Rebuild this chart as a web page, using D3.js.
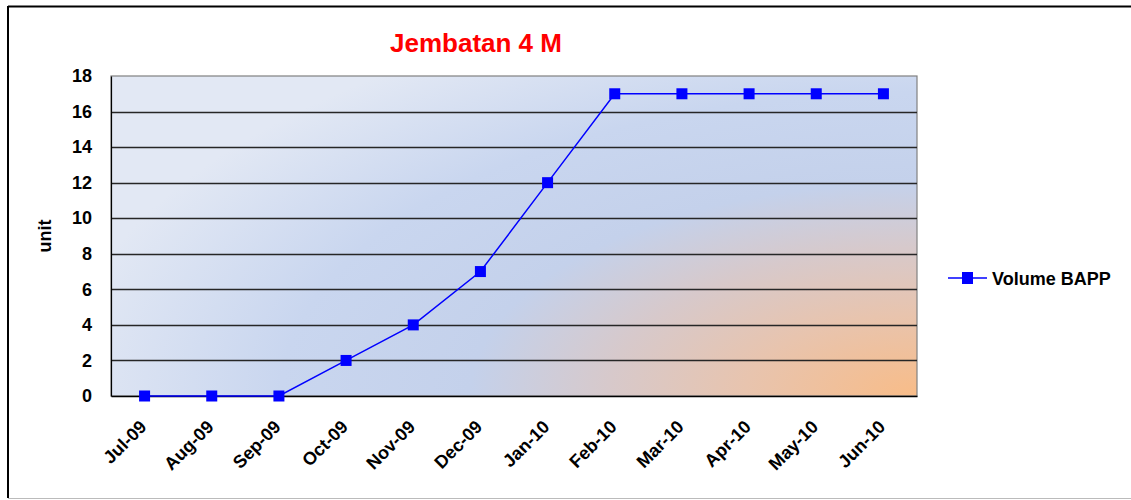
<!DOCTYPE html>
<html><head><meta charset="utf-8">
<script src="https://cdn.jsdelivr.net/npm/d3@7"></script>
<style>html,body{margin:0;padding:0;background:#fff;}svg{display:block;font-family:"Liberation Sans",Arial,sans-serif;}</style>
</head><body>
<script>
const categories = ["Jul-09","Aug-09","Sep-09","Oct-09","Nov-09","Dec-09","Jan-10","Feb-10","Mar-10","Apr-10","May-10","Jun-10"];
const volumeBAPP = [0,0,0,2,4,7,12,17,17,17,17,17];
const yTicks = [0,2,4,6,8,10,12,14,16,18];
const seriesName = "Volume BAPP";
const titleText = "Jembatan 4 M";
const yLabel = "unit";

const W = 1131, H = 500;
const m = {left:111, right:917, top:76, bottom:396};
const svg = d3.select("body").append("svg").attr("width",W).attr("height",H);

const x = d3.scaleBand().domain(categories).range([m.left,m.right]);
const y = d3.scaleLinear().domain([0,18]).range([m.bottom,m.top]);

const defs = svg.append("defs");
const rg = defs.append("radialGradient").attr("id","bg").attr("gradientUnits","userSpaceOnUse")
  .attr("cx",0).attr("cy",0).attr("r",1)
  .attr("gradientTransform",`translate(${m.right},${m.bottom}) scale(860,410)`);
[[0,"#f8bc88"],[0.2,"#e8c4ae"],[0.36,"#d7c9cb"],[0.52,"#c4d1eb"],[0.74,"#c9d6ef"],[1,"#e2e8f4"]]
  .forEach(([o,c])=>rg.append("stop").attr("offset",o).attr("stop-color",c));

// outer frame
svg.append("line").attr("x1",8).attr("x2",W).attr("y1",6.5).attr("y2",6.5).attr("stroke","#000").attr("stroke-width",2);
svg.append("line").attr("x1",8).attr("x2",8).attr("y1",6).attr("y2",498).attr("stroke","#000").attr("stroke-width",2);
svg.append("line").attr("x1",8).attr("x2",W).attr("y1",498.5).attr("y2",498.5).attr("stroke","#bbb").attr("stroke-width",1);

// plot background
svg.append("rect").attr("x",m.left).attr("y",m.top).attr("width",m.right-m.left).attr("height",m.bottom-m.top)
  .attr("fill","url(#bg)").attr("stroke","#808080").attr("stroke-width",1.2);

// gridlines
svg.append("g").selectAll("line").data(yTicks.filter(d=>d>0 && d<18)).join("line")
  .attr("x1",m.left).attr("x2",m.right).attr("y1",d=>Math.round(y(d))+0.5).attr("y2",d=>Math.round(y(d))+0.5)
  .attr("stroke","#262626").attr("stroke-width",1.4);

// axes
const yAxis = svg.append("g").attr("transform",`translate(${m.left},0)`)
  .call(d3.axisLeft(y).tickValues(yTicks).tickSize(0).tickPadding(19));
yAxis.select(".domain").attr("stroke","#000").attr("stroke-width",1.2);
yAxis.selectAll("text").attr("font-size",18).attr("font-weight","bold").attr("fill","#000")
  .attr("font-family","Liberation Sans, Arial, sans-serif");

const xAxis = svg.append("g").attr("transform",`translate(0,${m.bottom})`)
  .call(d3.axisBottom(x).tickSize(0).tickPadding(0));
xAxis.select(".domain").attr("stroke","#000").attr("stroke-width",1.5);
xAxis.selectAll("text").attr("font-size",18).attr("font-weight","bold").attr("fill","#000")
  .attr("font-family","Liberation Sans, Arial, sans-serif")
  .attr("text-anchor","end").attr("dy",0)
  .attr("transform","translate(3,32) rotate(-45)");

// line
const line = d3.line().x(d=>x(d.c)+x.bandwidth()/2).y(d=>y(d.v));
const pts = categories.map((c,i)=>({c,v:volumeBAPP[i]}));
svg.append("path").datum(pts).attr("d",line).attr("fill","none").attr("stroke","#0000ff").attr("stroke-width",1.5);
svg.append("g").selectAll("rect").data(pts).join("rect")
  .attr("x",d=>x(d.c)+x.bandwidth()/2-5.5).attr("y",d=>y(d.v)-5.5).attr("width",11).attr("height",11)
  .attr("fill","#0000ff");

// title
svg.append("text").attr("x",476).attr("y",52).attr("text-anchor","middle")
  .attr("font-size",26).attr("font-weight","bold").attr("fill","#ff0000").text(titleText);

// y label
svg.append("text").attr("transform","translate(51,236) rotate(-90)").attr("text-anchor","middle")
  .attr("font-size",18).attr("font-weight","bold").attr("fill","#000").text(yLabel);

// legend
const lg = svg.append("g").attr("transform","translate(948,278)");
lg.append("line").attr("x1",0).attr("x2",39).attr("y1",0).attr("y2",0).attr("stroke","#0000ff").attr("stroke-width",1.5);
lg.append("rect").attr("x",14).attr("y",-6).attr("width",11).attr("height",12).attr("fill","#0000ff");
lg.append("text").attr("x",44).attr("y",6.5).attr("font-size",18).attr("font-weight","bold").attr("fill","#000")
  .text(seriesName);
</script>
</body></html>
